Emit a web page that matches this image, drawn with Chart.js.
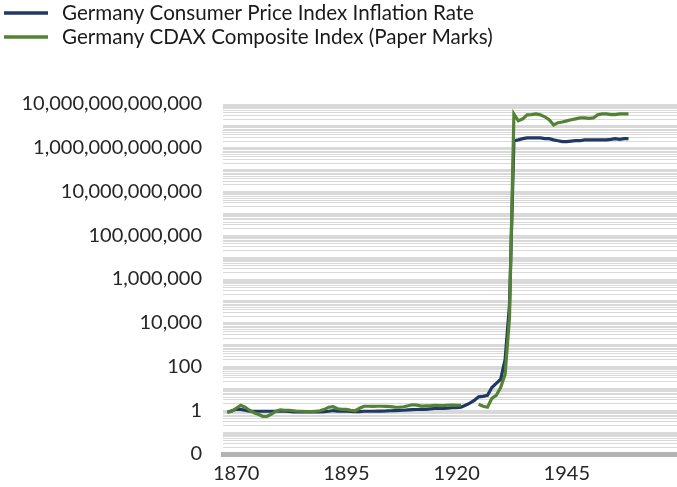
<!DOCTYPE html>
<html>
<head>
<meta charset="utf-8">
<title>Germany CPI vs CDAX</title>
<script src="https://cdn.jsdelivr.net/npm/chart.js@4.4.1/dist/chart.umd.min.js"></script>
<style>
  html, body { margin: 0; padding: 0; background: #fff; }
  #wrap { width: 677px; height: 487px; position: relative; }
</style>
</head>
<body>
<div id="wrap"><canvas id="inflationChart"></canvas></div>
<script>
// ---- data (log scale) ----
const seriesNames = ['Germany Consumer Price Index Inflation Rate', 'Germany CDAX Composite Index (Paper Marks)'];
const seriesColors = ['#1f3864', '#548235'];

const firstYear = 1868;
const lastYear = 1959;

// Consumer price index, one value per year from 1868
const cpi = [
  0.81, 0.95, 1.1, 1.1, 1.0, 0.9, 0.9, 0.9, 0.9, 0.9,
  0.9, 0.9, 0.92, 0.9, 0.88, 0.85, 0.84, 0.84, 0.85, 0.85,
  0.86, 0.84, 0.86, 0.9, 0.97, 0.92, 0.9, 0.9, 0.88, 0.86,
  0.86, 0.9, 0.9, 0.9, 0.92, 0.92, 0.93, 0.95, 0.97, 0.98,
  1.0, 1.03, 1.07, 1.08, 1.1, 1.1, 1.15, 1.2, 1.2, 1.22,
  1.24, 1.3, 1.32, 1.37, 1.7, 2.1, 2.8, 4.1, 4.3, 4.8,
  11, 17, 26, 207, 6.5e4, 2.1e12, 2.3e12, 2.6e12, 2.8e12, 2.8e12,
  2.8e12, 2.8e12, 2.6e12, 2.6e12, 2.3e12, 2.1e12, 1.9e12, 1.9e12, 2.0e12, 2.1e12,
  2.1e12, 2.3e12, 2.3e12, 2.3e12, 2.3e12, 2.3e12, 2.3e12, 2.4e12, 2.6e12, 2.4e12,
  2.6e12, 2.6e12
];

// CDAX composite index in paper marks, one value per year from 1868 (null = no quote)
const cdax = [
  0.81, 0.9, 1.23, 1.69, 1.37, 1.0, 0.77, 0.66, 0.53, 0.53,
  0.66, 0.9, 1.05, 1.0, 1.0, 0.95, 0.9, 0.9, 0.86, 0.86,
  0.9, 0.95, 1.1, 1.37, 1.45, 1.17, 1.1, 1.1, 1.0, 0.95,
  1.23, 1.52, 1.52, 1.5, 1.52, 1.52, 1.5, 1.45, 1.4, 1.37,
  1.45, 1.6, 1.78, 1.7, 1.55, 1.6, 1.6, 1.69, 1.62, 1.62,
  1.69, 1.7, 1.69, 1.69, null, null, null, 1.87, 1.52, 1.37,
  3.5, 4.8, 11, 43, 1.7e4, 3.5e13, 1.7e13, 2.1e13, 3.2e13, 3.3e13,
  3.5e13, 3.2e13, 2.6e13, 1.9e13, 1.1e13, 1.4e13, 1.5e13, 1.7e13, 1.9e13, 2.1e13,
  2.3e13, 2.3e13, 2.2e13, 2.3e13, 3.2e13, 3.5e13, 3.5e13, 3.3e13, 3.3e13, 3.5e13,
  3.5e13, 3.5e13
];

// axis
const xMin = 1867;
const xMax = 1970;
const xTickYears = [1870, 1895, 1920, 1945];
const yTickValues = [0.01, 1, 100, 1e4, 1e6, 1e8, 1e10, 1e12, 1e14];
const yTickLabels = ['0', '1', '100', '10,000', '1,000,000', '100,000,000',
  '10,000,000,000', '1,000,000,000,000', '10,000,000,000,000'];

const years = [];
for (let y = firstYear; y <= lastYear; y++) years.push(y);

const toPoints = (values) => years.map((yr, i) => ({ x: yr, y: values[i] }));

Chart.defaults.font.family = 'Lato, "Open Sans", sans-serif';
Chart.defaults.color = '#262626';

// legend drawn as short lines + text, stacked in two rows at the top left
const lineLegend = {
  id: 'lineLegend',
  afterDraw(chart) {
    const ctx = chart.ctx;
    ctx.save();
    ctx.font = '20.6px Lato, "Open Sans", sans-serif';
    ctx.textBaseline = 'middle';
    chart.data.datasets.forEach((ds, i) => {
      const y = 13 + i * 24;
      ctx.strokeStyle = ds.borderColor;
      ctx.lineWidth = 3.5;
      ctx.beginPath();
      ctx.moveTo(4, y);
      ctx.lineTo(48, y);
      ctx.stroke();
      ctx.fillStyle = '#1a1a1a';
      ctx.fillText(ds.label, 62, y);
    });
    ctx.restore();
  }
};

new Chart(document.getElementById('inflationChart'), {
  type: 'line',
  data: {
    datasets: [
      {
        label: seriesNames[0],
        data: toPoints(cpi),
        borderColor: seriesColors[0],
        borderWidth: 3.2,
        pointRadius: 0,
        tension: 0,
        order: 1
      },
      {
        label: seriesNames[1],
        data: toPoints(cdax),
        borderColor: seriesColors[1],
        borderWidth: 3.2,
        pointRadius: 0,
        tension: 0,
        order: 0
      }
    ]
  },
  options: {
    responsive: true,
    maintainAspectRatio: false,
    animation: false,
    layout: { padding: { top: 104, right: 0, left: 0, bottom: 0 } },
    plugins: {
      legend: { display: false },
      tooltip: { enabled: false }
    },
    scales: {
      x: {
        type: 'linear',
        min: xMin,
        max: xMax,
        afterBuildTicks: (scale) => {
          scale.ticks = xTickYears.map(v => ({ value: v }));
        },
        afterFit: (scale) => { scale.height = 32; },
        grid: { display: false, drawTicks: false },
        border: { display: true, color: '#b1b3b5', width: 5 },
        ticks: {
          autoSkip: false,
          maxRotation: 0,
          padding: 8,
          font: { size: 20 },
          callback: (v) => String(v)
        }
      },
      y: {
        type: 'logarithmic',
        min: 0.01,
        max: 1e14,
        afterBuildTicks: (scale) => {
          // gridline at every 1..9 x 10^k
          const ticks = [];
          for (let e = -2; e < 14; e++) {
            for (let m = 1; m <= 9; m++) ticks.push({ value: m * Math.pow(10, e) });
          }
          ticks.push({ value: 1e14 });
          scale.ticks = ticks;
        },
        afterFit: (scale) => { scale.width = 223; },
        grid: { color: '#d9d9d9', lineWidth: 1, drawTicks: false },
        border: { display: false },
        ticks: {
          autoSkip: false,
          padding: 21,
          font: { size: 20 },
          callback: (value) => {
            const k = yTickValues.findIndex(v => Math.abs(Math.log10(v) - Math.log10(value)) < 1e-6);
            return k >= 0 ? yTickLabels[k] : '';
          }
        }
      }
    }
  },
  plugins: [lineLegend]
});
</script>
</body>
</html>
